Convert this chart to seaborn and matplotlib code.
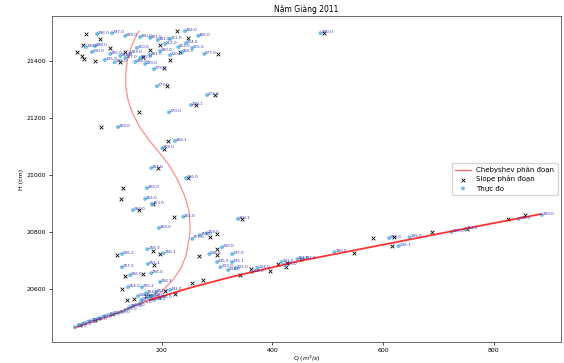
import matplotlib
matplotlib.use("Agg")
import matplotlib.pyplot as plt
import seaborn as sns

# Measured discharge Q (m3/s), stage H (cm) and the day label of each measurement
q_obs = [83, 110, 242, 215, 266, 277, 186, 191, 282, 253, 213, 121, 224, 201, 181, 244,
         173, 170, 182, 148, 239, 338, 195, 487,
         79, 134, 161, 179, 193, 206, 230, 244, 255, 237, 197, 179, 161, 143, 125, 107,
         63, 74, 97, 115, 134, 152, 170, 155, 215,
         128, 174, 203, 128, 175, 181, 143, 197, 139, 164, 172, 182, 190, 175, 197, 215,
         163, 186, 157, 143, 269, 255, 282, 309, 327, 286, 300, 327, 306, 320, 334, 363,
         373, 417, 423, 445, 456, 512, 611, 628, 648, 724, 749, 845, 887,
         43, 52, 61, 70, 79, 88, 97, 110, 121, 134, 148, 161]
h_obs = [21495, 21498, 21505, 21477, 21488, 21425, 21372, 21312, 21281, 21246, 21221, 21169,
         21120, 21095, 21025, 20990, 20955, 20917, 20899, 20878, 20854, 20847, 20815, 21498,
         21453, 21488, 21484, 21481, 21474, 21460, 21449, 21463, 21446, 21432, 21435, 21421,
         21411, 21428, 21418, 21425, 21449, 21432, 21404, 21396, 21411, 21397, 21390, 21446,
         21421,
         20724, 20741, 20727, 20678, 20689, 20657, 20650, 20626, 20608, 20608, 20587, 20577,
         20591, 20573, 20570, 20598, 20563, 20563, 20577, 20538, 20790, 20777, 20797, 20748,
         20724, 20724, 20696, 20696, 20678, 20668, 20675, 20661, 20675, 20696, 20685, 20706,
         20706, 20731, 20780, 20752, 20783, 20801, 20811, 20847, 20861,
         20468, 20475, 20482, 20489, 20493, 20500, 20507, 20514, 20517, 20528, 20542, 20552]
day_labels = ["296.0", "297.0", "304.0", "311.0", "306.0", "277.0", "275.0", "273.0", "272.0",
              "270.1", "270.0", "269.0", "268.1", "268.0", "267.0", "266.0", "265.0", "264.0",
              "263.0", "262.0", "261.0", "260.1", "260.0", "290.0",
              "298.0", "299.0", "300.0", "301.0", "302.0", "312.0", "313.0", "314.0", "315.0",
              "316.0", "280.0", "281.0", "282.0", "283.0", "284.0", "285.0", "340.0", "330.0",
              "335.0", "286.0", "287.0", "288.0", "289.0", "310.0", "320.0",
              "256.2", "256.3", "256.1", "257.2", "255.1", "256.0", "256.5", "254.1", "254.0",
              "255.2", "253.0", "252.0", "251.0", "250.0", "246.0", "241.0", "245.0", "244.0",
              "248.0", "239.0", "258.0", "257.0", "259.0", "249.0", "247.0", "246.5", "245.5",
              "235.1", "233.0", "232.0", "231.0", "218.0", "224.0", "191.0", "195.0", "201.0",
              "192.0", "180.0", "206.0", "236.1", "199.0", "160.0", "164.0", "148.0", "200.0",
              "110.0", "115.0", "120.0", "125.0", "130.0", "135.0", "140.0", "150.0", "155.0",
              "165.0", "170.0", "175.0"]

# Stage-discharge pairs from the piecewise slope method
q_slope = [63, 88, 58, 47, 56, 59, 228, 248, 302, 204, 209, 296, 262, 159, 90, 211, 204, 193,
           248, 130, 126, 184, 159, 222, 345, 494,
           106, 179, 197, 215, 233, 134, 125, 166, 79,
           300, 287, 119, 184, 197, 186, 166, 134, 128, 137, 150, 224, 206, 179, 300, 300, 268,
           255, 275, 342, 362, 396, 410, 426, 452, 425, 548, 582, 617, 619, 689, 752, 825, 857,
           52, 79, 110, 172]
h_slope = [21495, 21477, 21456, 21432, 21418, 21407, 21505, 21481, 21425, 21375, 21312, 21281,
           21246, 21221, 21169, 21120, 21092, 21025, 20990, 20955, 20917, 20899, 20878, 20854,
           20847, 21498,
           21446, 21439, 21456, 21404, 21432, 21432, 21397, 21414, 21400,
           20794, 20783, 20720, 20734, 20724, 20685, 20654, 20647, 20601, 20563, 20566, 20584,
           20594, 20577, 20741, 20720, 20717, 20622, 20633, 20650, 20671, 20664, 20689, 20692,
           20706, 20678, 20727, 20780, 20752, 20783, 20801, 20811, 20847, 20861,
           20475, 20493, 20514, 20577]

# Piecewise Chebyshev rating curve (three branches)
cheb_low_q = [43, 70, 100, 130, 155, 179]
cheb_low_h = [20465, 20484, 20503, 20525, 20546, 20563]
cheb_up_q = [179, 193, 206, 220, 235, 244, 249, 251, 251, 249, 242, 229, 213, 195, 177, 160,
             147, 139, 135, 135, 138, 143, 150, 159]
cheb_up_h = [20563, 20580, 20605, 20633, 20675, 20720, 20773, 20800, 20826, 20878, 20924,
             20983, 21036, 21081, 21123, 21169, 21218, 21264, 21309, 21361, 21404, 21439,
             21474, 21505]
cheb_right_q = [179, 250, 324, 450, 577, 730, 885]
cheb_right_h = [20563, 20605, 20643, 20700, 20748, 20806, 20864]

plt.rcParams["font.family"] = ["DejaVu Sans"]
fig, ax = plt.subplots(figsize=(5.64, 3.63), dpi=100)
fig.subplots_adjust(left=0.092, right=0.995, bottom=0.058, top=0.956)

sns.lineplot(x=cheb_low_q, y=cheb_low_h, sort=False, estimator=None, ax=ax,
             color="red", alpha=0.6, lw=0.9, label="Chebyshev phân đoạn")
sns.lineplot(x=cheb_up_q, y=cheb_up_h, sort=False, estimator=None, ax=ax,
             color="red", alpha=0.45, lw=0.9)
sns.lineplot(x=cheb_right_q, y=cheb_right_h, sort=False, estimator=None, ax=ax,
             color="red", alpha=0.8, lw=1.3)

sns.scatterplot(x=q_slope, y=h_slope, ax=ax, marker="x", color="black", s=7,
                linewidth=0.6, label="Slope phân đoạn")
sns.scatterplot(x=q_obs, y=h_obs, ax=ax, marker="o", color="#5fb8e8", s=8,
                edgecolor="none", alpha=0.9, label="Thực đo")

for q, h, t in zip(q_obs, h_obs, day_labels):
    ax.annotate(t, (q, h), xytext=(0.6, 0.3), textcoords="offset points",
                fontsize=3.0, color="#1f1fa8", alpha=0.9)

ax.set_xlim(1.4, 922)
ax.set_ylim(20416, 21558)
ax.set_xticks([200, 400, 600, 800])
ax.set_yticks([20600, 20800, 21000, 21200, 21400])
ax.tick_params(labelsize=4.5, length=2, width=0.5, pad=2)
for s in ax.spines.values():
    s.set_linewidth(0.6)
    s.set_color("#555555")
ax.set_title("Nậm Giàng 2011", fontsize=5.5, pad=3)
ax.set_xlabel("Q ($m^3/s$)", fontsize=4.5, labelpad=1)
ax.set_ylabel("H (cm)", fontsize=4.5, labelpad=2)
ax.legend(loc="center right", fontsize=5, markerscale=1.0, frameon=True,
          handlelength=2.2, borderpad=0.5, labelspacing=0.4)

fig.savefig("out.png", dpi=100)
